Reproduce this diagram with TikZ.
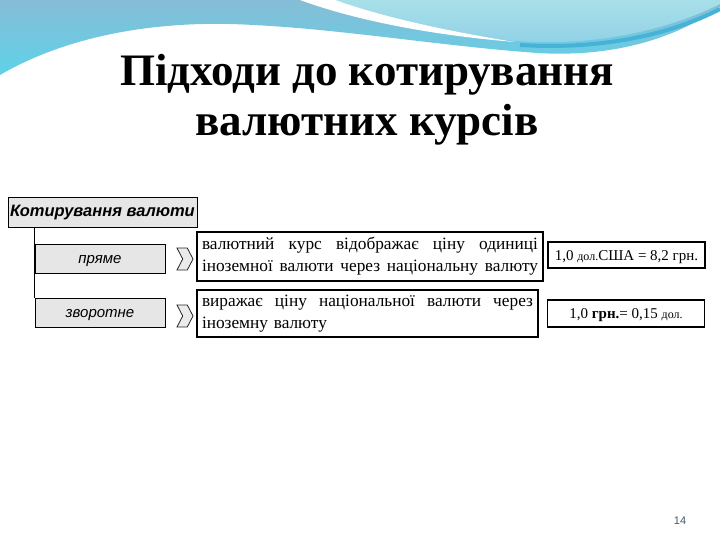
\documentclass[tikz,border=0pt]{standalone}
\usepackage{fontspec}
\setmainfont{Liberation Serif}
\newfontfamily\boxsans{Liberation Sans}
\usetikzlibrary{shapes.symbols}
\definecolor{hdtop}{HTML}{86BDD6}
\definecolor{hdcyan}{HTML}{5ED2E8}
\definecolor{hdlight}{HTML}{A8E0E9}
\definecolor{hdmid}{HTML}{8ECFE6}
\definecolor{hdband}{HTML}{45B2D8}
\definecolor{boxgray}{HTML}{E6E6E6}
\definecolor{pagenum}{HTML}{3E5A6E}
\begin{document}
\begin{tikzpicture}[x=1pt,y=-1pt,
    head/.style={draw,fill=boxgray,line width=0.8pt,
      font=\boxsans\bfseries\itshape\fontsize{16.5}{18}\selectfont,
      text height=12pt,text depth=2pt,
      minimum width=189pt,minimum height=30pt,inner sep=0pt},
    kind/.style={draw,fill=boxgray,line width=0.8pt,
      font=\boxsans\itshape\fontsize{15}{18}\selectfont,
      text height=12pt,text depth=2pt,
      minimum width=130pt,minimum height=29pt,inner sep=0pt},
    arrowmark/.style={signal,signal from=west,signal to=east,
      signal pointer angle=125,draw=black!85,fill=black!8,line width=0.8pt,
      minimum width=16pt,minimum height=22pt,inner sep=0pt},
    meaning/.style={draw,line width=1.2pt,font=\fontsize{17.3}{22}\selectfont,
      align=left,inner xsep=5pt,inner ysep=0pt},
    sample/.style={draw,line width=1.2pt,font=\fontsize{15}{18}\selectfont,
      text height=12pt,text depth=2pt,
      minimum width=157pt,minimum height=26pt,inner sep=0pt}
  ]
  \useasboundingbox[fill=white] (0,0) rectangle (720,540);

  % header wave
  \shade[top color=hdtop,bottom color=hdcyan]
    (0,0) -- (720,0) -- (720,7)
    .. controls (680,35) and (620,58) .. (537,53)
    .. controls (430,45) and (330,27) .. (230,24)
    .. controls (140,22) and (60,40) .. (0,75) -- cycle;
  \shade[top color=hdlight,bottom color=hdmid]
    (318,0) -- (720,0) -- (720,4)
    .. controls (660,34) and (580,48) .. (505,40)
    .. controls (430,30) and (370,18) .. (318,0) -- cycle;
  \draw[hdband,line width=4pt]
    (520,45) .. controls (600,50) and (670,35) .. (720,9);
  \fill[white]
    (300,0) .. controls (360,22) and (440,36) .. (515,42)
    .. controls (440,30) and (380,16) .. (335,0) -- cycle;

  % title
  \node[font=\bfseries\fontsize{45}{50}\selectfont,align=center] (title)
    at (367,100) {Підходи до котирування\\валютних курсів};

  \draw
    (102.5,212) node[head] (root){Котирування валюти}
    (100,258.5) node[kind] (direct){пряме}
    (100,312.5) node[kind] (inverse){зворотне}
    (185,259) node[arrowmark] (mark1){}
    (185,316) node[arrowmark] (mark2){}
    (370,256.5) node[meaning,text width=336pt,minimum height=49pt] (def1)
      {валютний\hfill курс\hfill відображає\hfill ціну\hfill одиниці\\
       іноземної\hfill валюти\hfill через\hfill національну\hfill валюту}
    (367.5,313.5) node[meaning,text width=331pt,minimum height=47pt] (def2)
      {виражає\hfill ціну\hfill національної\hfill валюти\hfill через\\
       іноземну валюту}
    (626.5,255) node[sample] (ex1){1,0 {\fontsize{12}{14}\selectfont дол.}США = 8,2 грн.}
    (626,313.5) node[sample,minimum height=27pt] (ex2){1,0 \textbf{грн.}= 0,15 {\fontsize{12}{14}\selectfont дол.}};
  \begin{scope}[-]
    \draw[line width=0.8pt] (root.south -| direct.west) to (inverse.north west);
  \end{scope}

  \node[font=\boxsans\fontsize{11}{13}\selectfont,text=pagenum] (page) at (680,521) {14};
\end{tikzpicture}
\end{document}
